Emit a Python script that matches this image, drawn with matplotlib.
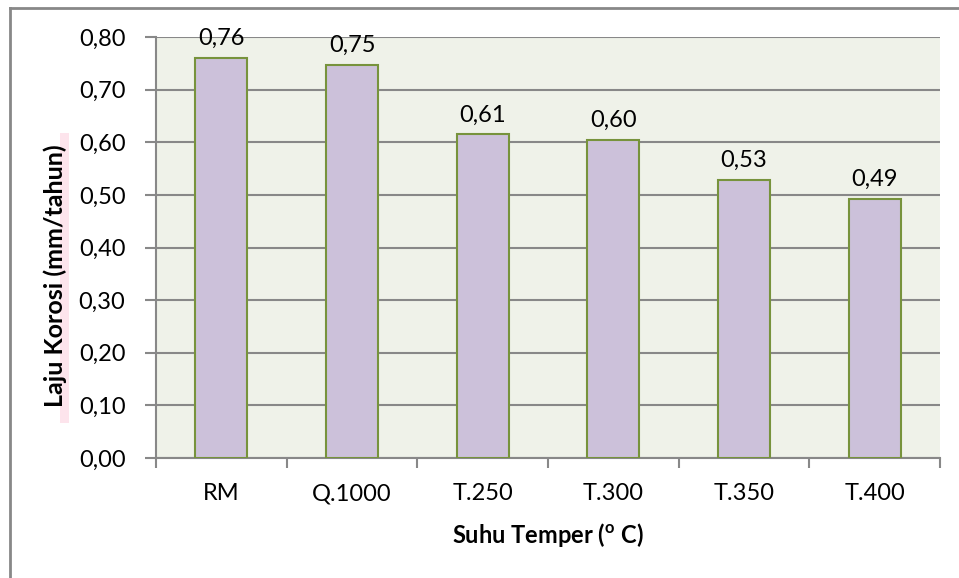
import matplotlib
matplotlib.use("Agg")
import matplotlib.pyplot as plt
from matplotlib.patches import Rectangle
from matplotlib.lines import Line2D

categories = ["RM", "Q.1000", "T.250", "T.300", "T.350", "T.400"]
values = [0.76, 0.747, 0.615, 0.605, 0.528, 0.492]
labels = ["0,76", "0,75", "0,61", "0,60", "0,53", "0,49"]
yticks = [0.0, 0.1, 0.2, 0.3, 0.4, 0.5, 0.6, 0.7, 0.8]
ytick_labels = ["0,00", "0,10", "0,20", "0,30", "0,40", "0,50", "0,60", "0,70", "0,80"]

plt.rcParams['font.family'] = ['Lato', 'DejaVu Sans']
plt.rcParams['mathtext.default'] = 'regular'

W, H = 959, 578
FS = 17
fig = plt.figure(figsize=(W/100, H/100), dpi=100)
ax = fig.add_axes([156/W, 1-458/H, (940-156)/W, (458-37)/H])
ax.set_facecolor('#eff2e9')

x = list(range(len(categories)))
ax.bar(x, values, width=0.4, color='#ccc1da', edgecolor='#77933c', linewidth=1.5, zorder=3)
for xi, v, lab in zip(x, values, labels):
    ax.annotate(lab, (xi, v), xytext=(0, 9), textcoords='offset pixels',
                ha='center', va='bottom', fontsize=FS, color='black', zorder=4)

ax.set_xlim(-0.5, len(categories) - 0.5)
ax.set_ylim(0, 0.8)
ax.set_yticks(yticks)
ax.set_yticklabels(ytick_labels, fontsize=FS)
ax.set_xticks([i - 0.5 for i in range(len(categories) + 1)], minor=False)
ax.set_xticklabels([])
ax.set_xticks(x, minor=True)
ax.set_xticklabels(categories, minor=True, fontsize=FS)
ax.tick_params(axis='x', which='minor', length=0, pad=18)
ax.tick_params(axis='x', which='major', length=7, width=1.5, color='#888888', direction='out')
ax.tick_params(axis='y', length=8, width=1.5, color='#888888', direction='out', pad=14)
ax.yaxis.grid(True, color='#888888', linewidth=1.5, zorder=0)
ax.set_axisbelow(True)
for s in ['top', 'right']:
    ax.spines[s].set_visible(False)
for s in ['left', 'bottom']:
    ax.spines[s].set_color('#888888')
    ax.spines[s].set_linewidth(1.5)

fig.text(548/W, 1-535/H, 'Suhu Temper ($^{o}$ C)', ha='center', va='center', fontsize=17, fontweight='bold')

# pink band behind y label
fig.patches.append(Rectangle((60/W, 1-423/H), 9/W, 290/H, transform=fig.transFigure,
                             facecolor='#fde4ec', edgecolor='none', zorder=0))
fig.text(55/W, 1-276/H, 'Laju Korosi (mm/tahun)', rotation=90, ha='center', va='center',
         fontsize=18, fontweight='bold', zorder=2)

# outer border lines
fig.add_artist(Line2D([10/W, 1], [1-8/H, 1-8/H], transform=fig.transFigure, color='#888888', linewidth=2))
fig.add_artist(Line2D([10/W, 10/W], [0, 1-8/H], transform=fig.transFigure, color='#888888', linewidth=2))

fig.savefig('out.png', dpi=100)
